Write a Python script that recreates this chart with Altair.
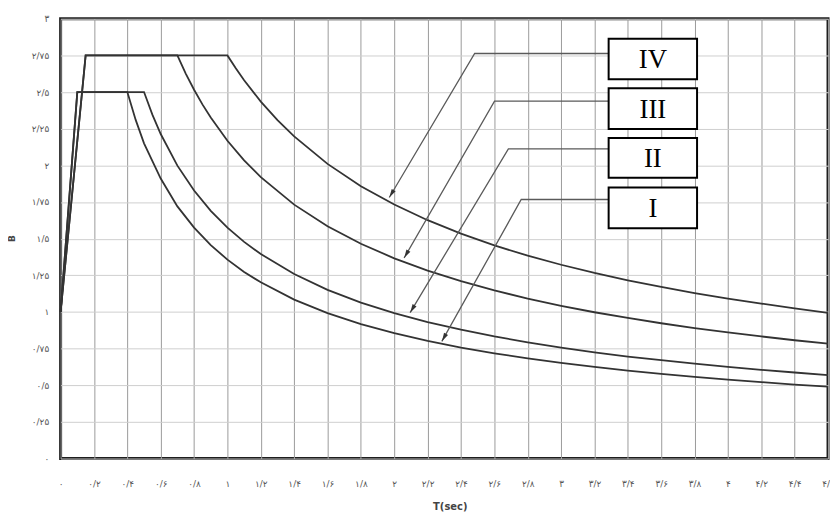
import math
import altair as alt
import pandas as pd

# ---- data (spectrum B vs period T) ----
T_I = [0, 0.1, 0.4, 0.45, 0.5, 0.6, 0.7, 0.8, 0.9, 1.0, 1.1, 1.2, 1.4, 1.6, 1.8, 2.0,
       2.2, 2.4, 2.6, 2.8, 3.0, 3.2, 3.4, 3.6, 3.8, 4.0, 4.2, 4.4, 4.6]
B_I = [1.0, 2.5, 2.5, 2.31, 2.15, 1.91, 1.72, 1.575, 1.456, 1.357, 1.273, 1.202, 1.084,
       0.992, 0.917, 0.855, 0.802, 0.757, 0.718, 0.683, 0.652, 0.625, 0.600, 0.578,
       0.557, 0.539, 0.521, 0.505, 0.491]

T_II = [0, 0.1, 0.5, 0.55, 0.6, 0.7, 0.8, 0.9, 1.0, 1.1, 1.2, 1.4, 1.6, 1.8, 2.0, 2.2,
        2.4, 2.6, 2.8, 3.0, 3.2, 3.4, 3.6, 3.8, 4.0, 4.2, 4.4, 4.6]
B_II = [1.0, 2.5, 2.5, 2.346, 2.214, 1.998, 1.828, 1.690, 1.575, 1.478, 1.395, 1.259,
        1.151, 1.064, 0.992, 0.931, 0.879, 0.833, 0.793, 0.757, 0.725, 0.696, 0.671,
        0.647, 0.625, 0.605, 0.587, 0.569]

T_III = [0, 0.15, 0.7, 0.75, 0.8, 0.85, 0.9, 1.0, 1.1, 1.2, 1.4, 1.6, 1.8, 2.0, 2.2,
         2.4, 2.6, 2.8, 3.0, 3.2, 3.4, 3.6, 3.8, 4.0, 4.2, 4.4, 4.6]
B_III = [1.0, 2.75, 2.75, 2.626, 2.516, 2.416, 2.326, 2.168, 2.034, 1.920, 1.732, 1.585,
         1.465, 1.366, 1.282, 1.210, 1.147, 1.091, 1.042, 0.998, 0.959, 0.923, 0.890,
         0.860, 0.833, 0.807, 0.784]

T_IV = [0, 0.15, 1.0, 1.05, 1.1, 1.2, 1.3, 1.4, 1.6, 1.8, 2.0, 2.2, 2.4, 2.6, 2.8, 3.0,
        3.2, 3.4, 3.6, 3.8, 4.0, 4.2, 4.4, 4.6]
B_IV = [1.0, 2.75, 2.75, 2.662, 2.581, 2.435, 2.309, 2.198, 2.010, 1.858, 1.733, 1.626,
        1.534, 1.454, 1.384, 1.322, 1.266, 1.216, 1.171, 1.129, 1.091, 1.057, 1.024, 0.994]

# label boxes and leader arrows (data coordinates)
box_labels = ["IV", "III", "II", "I"]
box_x0 = [3.285, 3.285, 3.285, 3.285]
box_x1 = [3.815, 3.815, 3.815, 3.815]
box_y_top = [2.864, 2.526, 2.187, 1.849]
box_y_bot = [2.587, 2.248, 1.916, 1.571]
leader_y = [2.763, 2.438, 2.113, 1.767]
bend_x = [2.482, 2.601, 2.684, 2.761]
tip_x = [1.970, 2.059, 2.095, 2.285]
tip_y = [1.781, 1.368, 0.995, 0.799]

# tick labels (Persian digits)
x_ticks = [0, 0.2, 0.4, 0.6, 0.8, 1.0, 1.2, 1.4, 1.6, 1.8, 2.0, 2.2, 2.4, 2.6, 2.8,
           3.0, 3.2, 3.4, 3.6, 3.8, 4.0, 4.2, 4.4, 4.6]
x_tick_labels = ["۰", "۰/۲", "۰/۴", "۰/۶", "۰/۸", "۱", "۱/۲", "۱/۴", "۱/۶", "۱/۸",
                 "۲", "۲/۲", "۲/۴", "۲/۶", "۲/۸", "۳", "۳/۲", "۳/۴", "۳/۶", "۳/۸",
                 "۴", "۴/۲", "۴/۴", "۴/۶"]
y_ticks = [0, 0.25, 0.5, 0.75, 1.0, 1.25, 1.5, 1.75, 2.0, 2.25, 2.5, 2.75, 3.0]
y_tick_labels = ["۰", "۰/۲۵", "۰/۵", "۰/۷۵", "۱", "۱/۲۵", "۱/۵", "۱/۷۵", "۲",
                 "۲/۲۵", "۲/۵", "۲/۷۵", "۳"]

# ---- build tables ----
W, H = 773, 443
XMAX, YMAX = 4.6, 3.0
kx, ky = W / XMAX, H / YMAX

rows = []
for name, ts, bs in [("I", T_I, B_I), ("II", T_II, B_II), ("III", T_III, B_III), ("IV", T_IV, B_IV)]:
    for i, (t, b) in enumerate(zip(ts, bs)):
        rows.append({"series": name, "T": t, "B": b, "idx": i})
curves = pd.DataFrame(rows)

lead_rows, arrow_rows, box_rows = [], [], []
for k, lab in enumerate(box_labels):
    pts = [(box_x0[k], leader_y[k]), (bend_x[k], leader_y[k]), (tip_x[k], tip_y[k])]
    for i, (x, y) in enumerate(pts):
        lead_rows.append({"series": lab, "x": x, "y": y, "idx": i})
    dxp = (tip_x[k] - bend_x[k]) * kx
    dyp = -(tip_y[k] - leader_y[k]) * ky
    ang = math.degrees(math.atan2(dxp, -dyp)) % 360
    frac = 4.5 / math.hypot(dxp, dyp)
    arrow_rows.append({"x": tip_x[k] + (bend_x[k] - tip_x[k]) * frac,
                       "y": tip_y[k] + (leader_y[k] - tip_y[k]) * frac,
                       "angle": ang})
    box_rows.append({"label": lab, "x0": box_x0[k], "x1": box_x1[k],
                     "y0": box_y_bot[k], "y1": box_y_top[k],
                     "xc": (box_x0[k] + box_x1[k]) / 2, "yc": (box_y_bot[k] + box_y_top[k]) / 2})
leaders = pd.DataFrame(lead_rows)
arrows = pd.DataFrame(arrow_rows)
boxes = pd.DataFrame(box_rows)

x_expr = "[" + ",".join("'%s'" % s for s in x_tick_labels) + "][round(datum.value*5)]"
y_expr = "[" + ",".join("'%s'" % s for s in y_tick_labels) + "][round(datum.value*4)]"

xscale = alt.Scale(domain=[0, XMAX], nice=False, zero=False)
yscale = alt.Scale(domain=[0, YMAX], nice=False, zero=False)

xaxis = alt.Axis(values=x_ticks, labelExpr=x_expr, title="T(sec)", grid=True,
                 gridColor="#9a9a9a", gridWidth=1, ticks=False, domain=False,
                 labelOverlap=False, tickCount=24,
                 labelPadding=21, labelFont="DejaVu Sans", labelFontSize=9,
                 labelColor="#555", labelFlush=False,
                 titleX=392, titleY=48, titleFont="DejaVu Sans", titleFontSize=10,
                 titleFontWeight="bold", titleColor="#444", titleBaseline="middle")
yaxis = alt.Axis(values=y_ticks, labelExpr=y_expr, title="B", grid=True,
                 gridColor="#cfcfcf", gridWidth=1, ticks=False, domain=False,
                 labelOverlap=False, tickCount=13,
                 labelPadding=12, labelFont="DejaVu Sans", labelFontSize=9,
                 labelColor="#555", labelFlush=False,
                 titleX=-49, titleY=221, titleFont="DejaVu Sans", titleFontSize=9,
                 titleFontWeight="bold", titleColor="#444", titleAngle=-90,
                 titleBaseline="middle", titleAlign="center")

curve_layer = alt.Chart(curves).mark_line(color="#333333", strokeWidth=1.8).encode(
    x=alt.X("T:Q", scale=xscale, axis=xaxis),
    y=alt.Y("B:Q", scale=yscale, axis=yaxis),
    detail="series:N",
    order="idx:Q",
)

lead_layer = alt.Chart(leaders).mark_line(color="#5a5a5a", strokeWidth=1.3).encode(
    x=alt.X("x:Q", scale=xscale, axis=xaxis),
    y=alt.Y("y:Q", scale=yscale, axis=yaxis),
    detail="series:N",
    order="idx:Q",
)

arrow_layer = alt.Chart(arrows).mark_point(
    shape="M0,-1L0.55,1L-0.55,1Z", filled=True, color="#333333", size=70, opacity=1
).encode(
    x=alt.X("x:Q", scale=xscale, axis=xaxis),
    y=alt.Y("y:Q", scale=yscale, axis=yaxis),
    angle=alt.Angle("angle:Q", scale=None),
)

box_layer = alt.Chart(boxes).mark_rect(fill="white", stroke="black", strokeWidth=2).encode(
    x=alt.X("x0:Q", scale=xscale, axis=xaxis), x2="x1:Q",
    y=alt.Y("y0:Q", scale=yscale, axis=yaxis), y2="y1:Q",
)

text_layer = alt.Chart(boxes).mark_text(
    font="Liberation Serif", fontSize=27, color="black", baseline="middle", align="center", dy=1
).encode(
    x=alt.X("xc:Q", scale=xscale, axis=xaxis),
    y=alt.Y("yc:Q", scale=yscale, axis=yaxis),
    text="label:N",
)

chart = alt.layer(curve_layer, lead_layer, arrow_layer, box_layer, text_layer).properties(
    width=W, height=H,
    autosize=alt.AutoSizeParams(type="none"),
    padding={"left": 53, "top": 9, "right": 2, "bottom": 53},
    background="white",
).configure_view(stroke="#1e1e1e", strokeWidth=3)

chart.save("out.html", embed_options={"renderer": "svg", "actions": False})
